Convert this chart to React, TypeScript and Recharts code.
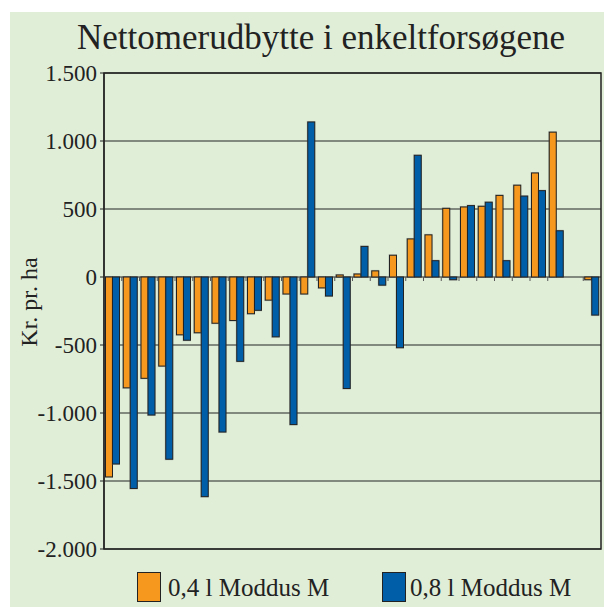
import React from 'react';
import { BarChart, Bar, XAxis, YAxis, CartesianGrid, ReferenceArea } from 'recharts';

// Nettomerudbytte (kr. pr. ha) per forsøg
const trials = ['1', '2', '3', '4', '5', '6', '7', '8', '9', '10', '11', '12', '13', '14',
    '15', '16', '17', '18', '19', '20', '21', '22', '23', '24', '25', '26', '27', '28'];
const moddus04 = [-1470, -815, -745, -655, -425, -410, -340, -320, -270, -170, -125, -125, -80, 15,
    22, 45, 160, 280, 310, 505, 515, 520, 600, 675, 765, 1065, null, -20];
const moddus08 = [-1375, -1555, -1015, -1340, -465, -1615, -1140, -620, -245, -440, -1085, 1140, -140, -820,
    225, -60, -520, 895, 120, -20, 525, 550, 120, 595, 635, 340, null, -280];

const yTicks = [-2000, -1500, -1000, -500, 0, 500, 1000, 1500];
const yTickLabels = ['-2.000', '-1.500', '-1.000', '-500', '0', '500', '1.000', '1.500'];
const seriesNames = ['0,4 l Moddus M', '0,8 l Moddus M'];

const data = trials.map((t, i) => ({ trial: t, m04: moddus04[i], m08: moddus08[i] }));

const ORANGE = '#F6981E';
const BLUE = '#005EA8';
const INK = '#222222';
const FONT = '"Liberation Serif", "Times New Roman", serif';
const CAT_GAP = 1.5;

const BarShape = (props: any) => {
    const { x, y, width, height, fill, withTick, dataKey, payload } = props;
    const top = Math.min(y, y + height);
    const h = Math.abs(height);
    const v = payload[dataKey];
    const zeroY = v >= 0 ? top + h : top;
    return (
        <g>
            <rect x={x - 1} y={top - 1} width={width + 1.5} height={h + 2} fill="#6f6f6f" opacity={0.35} />
            <rect x={x} y={top} width={width} height={h} fill={fill} stroke={INK} strokeWidth={1} />
            {withTick && <line x1={x - CAT_GAP} x2={x - CAT_GAP} y1={zeroY} y2={zeroY + 4} stroke="#555" strokeWidth={1} />}
        </g>
    );
};

export default function App() {
    return (
        <div style={{ position: 'fixed', left: 10, top: 12, width: 594, height: 595, background: '#E0EED8', fontFamily: FONT, color: INK }}>
            <div style={{ position: 'absolute', left: 61, top: 9, width: 500, textAlign: 'center', fontSize: 35, lineHeight: '34px' }}>
                Nettomerudbytte i enkeltforsøgene
            </div>
            <div style={{ position: 'absolute', left: 19 - 60, top: 290 - 12, width: 120, height: 24, textAlign: 'center', fontSize: 24, lineHeight: '24px', transform: 'rotate(-90deg)' }}>
                Kr. pr. ha
            </div>
            <BarChart width={594} height={595} data={data} margin={{ top: 61, right: 3, bottom: 58, left: 24 }}
                barCategoryGap={CAT_GAP} barGap={0} style={{ fontFamily: FONT }}>
                <CartesianGrid vertical={false} stroke={INK} strokeWidth={1.2} />
                <XAxis dataKey="trial" hide />
                <YAxis domain={[-2000, 1500]} ticks={yTicks} interval={0} width={70}
                    tickFormatter={(v: number) => yTickLabels[yTicks.indexOf(v)]}
                    axisLine={{ stroke: INK, strokeWidth: 1.2 }} tickLine={{ stroke: INK }} tickSize={4} tickMargin={3}
                    tick={{ fontSize: 23, fill: INK, fontFamily: 'Liberation Serif', style: { fontFamily: FONT } }} />
                <ReferenceArea y1={-2000} y2={1500} fill="none" stroke={INK} strokeWidth={1.5} ifOverflow="visible" />
                <Bar dataKey="m04" name={seriesNames[0]} fill={ORANGE} isAnimationActive={false}
                    shape={(p: any) => <BarShape {...p} dataKey="m04" withTick />} />
                <Bar dataKey="m08" name={seriesNames[1]} fill={BLUE} isAnimationActive={false}
                    shape={(p: any) => <BarShape {...p} dataKey="m08" />} />
            </BarChart>
            <div style={{ position: 'absolute', left: 127, top: 560, width: 22, height: 28, background: ORANGE, border: `1px solid ${INK}` }} />
            <div style={{ position: 'absolute', left: 158, top: 585 - 23, fontSize: 25, lineHeight: '28px', whiteSpace: 'nowrap' }}>{seriesNames[0]}</div>
            <div style={{ position: 'absolute', left: 372, top: 560, width: 22, height: 28, background: BLUE, border: `1px solid ${INK}` }} />
            <div style={{ position: 'absolute', left: 400, top: 585 - 23, fontSize: 25, lineHeight: '28px', whiteSpace: 'nowrap' }}>{seriesNames[1]}</div>
        </div>
    );
}
